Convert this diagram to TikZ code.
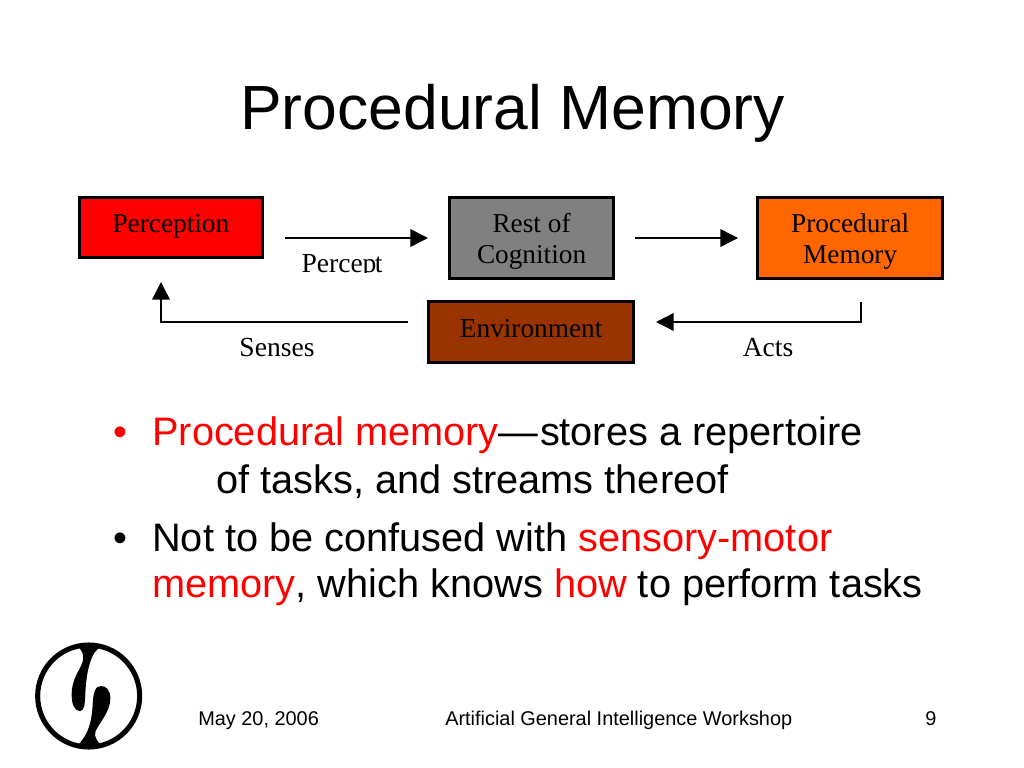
\documentclass[tikz,border=0pt]{standalone}
\usepackage{fontspec}
\setmainfont{Liberation Sans}
\newfontfamily\serifbox{Liberation Serif}
\usetikzlibrary{arrows.meta}
\definecolor{boxorange}{HTML}{FF6600}
\definecolor{boxbrown}{HTML}{993300}
\definecolor{boxgray}{HTML}{808080}
\begin{document}
\begin{tikzpicture}[x=0.025cm,y=-0.025cm]
			\tikzset{stage box/.style={draw=black,line width=2.2pt,fill=#1,anchor=north west,inner sep=0pt,align=center,font=\serifbox\fontsize{19.4}{22}\selectfont}}
			\tikzset{flow/.style={draw=black,line width=1pt,-{Triangle[length=0.44cm,width=0.44cm]}}}
			\tikzset{flow label/.style={anchor=base,inner sep=0pt,font=\serifbox\fontsize{19.6}{22}\selectfont}}
			\tikzset{line text/.style={anchor=base west,inner sep=0pt,font=\fontsize{28.25}{34}\selectfont}}
			\tikzset{foot text/.style={anchor=base west,inner sep=0pt,font=\fontsize{14.15}{17}\selectfont}}
			\useasboundingbox (0,0) rectangle (1024,768);
			\fill[white] (0,0) rectangle (1024,768);
			\node [anchor=base west,inner sep=0pt,font=\fontsize{44.4}{52}\selectfont] (title) at (240,130) {Procedural Memory};
			\node [stage box = red,minimum width=4.59cm,text height=0.8625cm,text depth=0.6375cm] (perception) at (77.5,196) {Perception};
			\node [stage box = boxgray,minimum width=4.1cm,text height=1.64cm,text depth=0.385cm] (rest) at (448,196) {Rest of\\Cognition};
			\node [stage box = boxorange,minimum width=4.63cm,text height=1.64cm,text depth=0.385cm] (procedural) at (756,196) {Procedural\\Memory};
			\node [stage box = boxbrown,minimum width=5.13cm,text height=0.8875cm,text depth=0.6375cm] (environment) at (427,300) {Environment};
			\coordinate (perceptStart) at (285,238);
			\coordinate (perceptEnd) at (428,238);
			\coordinate (restStart) at (635,238);
			\coordinate (restEnd) at (738,238);
			\coordinate (actsStart) at (861,302);
			\coordinate (actsEnd) at (656,322);
			\coordinate (sensesStart) at (408,322);
			\coordinate (sensesEnd) at (161,282);
			\draw [flow] (perceptStart) -- (perceptEnd);
			\draw [flow] (restStart) -- (restEnd);
			\draw [flow] (actsStart) |- (actsEnd);
			\draw [flow] (sensesStart) -| (sensesEnd);
			\begin{scope}
				\clip (290,250) rectangle (400,272.5);
				\node [flow label] (percept) at (342,272) {Percep\kern-1.2pt t};
			\end{scope}
			\node [flow label] (senses) at (277,356) {Senses};
			\node [flow label] (acts) at (768,356) {Acts};
			\node [line text,text=red] (bulletA) at (113,445) {•};
			\node [line text] (lineA) at (152,445) {\textcolor{red}{Procedural memory}—\kern1pt stores a repertoire};
			\node [line text] (lineB) at (216,493) {of tasks, and streams thereof};
			\node [line text] (bulletB) at (113,551) {•};
			\node [line text] (lineC) at (152,551) {Not to be confused with \textcolor{red}{sensory-motor}};
			\node [line text] (lineD) at (152,597) {\textcolor{red}{memory}, which knows \textcolor{red}{how} to perform tasks};
			\node [foot text] (date) at (198,725) {May 20, 2006};
			\node [foot text] (workshop) at (445,725) {Artificial General Intelligence Workshop};
			\node [foot text] (page) at (925,725) {9};
			\begin{scope}[shift={(20,630)},x=0.025cm/3,y=-0.025cm/3]
				\draw [black,line width=3.6pt] (206,198) circle (153);
				\fill [black] (170,46) .. controls (188,62) and (193,75) .. (188,95) .. controls (178,125) and (155,145) .. (155,195) .. controls (155,225) and (165,243) .. (180,243) .. controls (192,243) and (195,225) .. (196,190) .. controls (198,145) and (205,100) .. (222,70) .. controls (228,62) and (238,52) .. (248,46) -- cycle;
				\fill [black] (250,352) .. controls (232,335) and (222,322) .. (226,305) .. controls (240,275) and (271,245) .. (271,205) .. controls (271,180) and (258,168) .. (243,168) .. controls (225,168) and (219,190) .. (218,225) .. controls (216,265) and (208,298) .. (192,322) .. controls (186,332) and (176,345) .. (165,352) -- cycle;
			\end{scope}
		\end{tikzpicture}
\end{document}
